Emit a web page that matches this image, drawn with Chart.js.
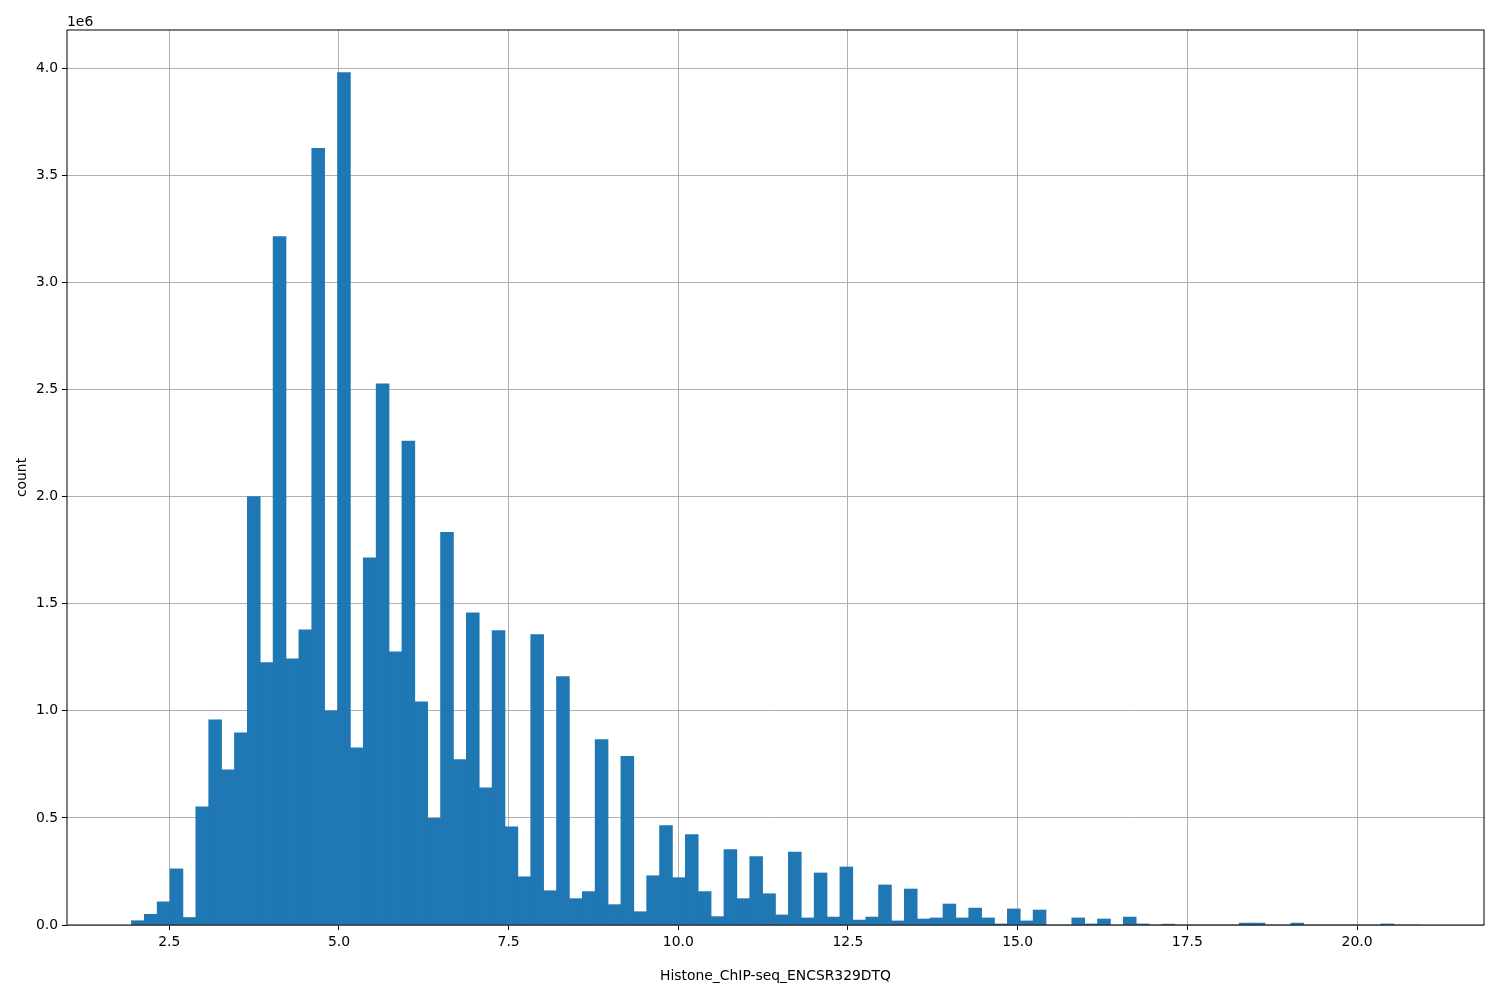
<!DOCTYPE html>
<html>
<head>
<meta charset="utf-8">
<script src="https://cdn.jsdelivr.net/npm/chart.js@4/dist/chart.umd.min.js"></script>
<style>
  html, body { margin: 0; padding: 0; background: #ffffff; }
  #wrap { width: 1500px; height: 1000px; }
</style>
</head>
<body>
<div id="wrap"><canvas id="c" width="1500" height="1000"></canvas></div>
<script>
// ---- Data ----
const xLabel = "Histone_ChIP-seq_ENCSR329DTQ";
const yLabel = "count";
const binStart = 1.942;     // left edge of the first bin
const binWidth = 0.1898;    // width of every bin
const counts = [
  20000, 50000, 108000, 262000, 35000, 552000, 958000, 724000, 897000, 2000000,
  1225000, 3215000, 1243000, 1378000, 3626000, 1000000, 3980000, 827000, 1715000, 2527000,
  1275000, 2260000, 1042000, 498000, 1833000, 772000, 1458000, 640000, 1375000, 458000,
  225000, 1356000, 160000, 1160000, 123000, 156000, 866000, 95000, 787000, 62000,
  230000, 464000, 221000, 422000, 156000, 39000, 352000, 123000, 319000, 146000,
  47000, 341000, 33000, 243000, 37000, 271000, 23000, 37000, 187000, 19000,
  168000, 28000, 33000, 98000, 33000, 79000, 33000, 5000, 75000, 19000,
  70000, 0, 0, 33000, 5000, 28000, 0, 37000, 5000, 0,
  4000, 0, 0, 0, 0, 0, 9000, 9000, 0, 0,
  9000, 0, 0, 0, 0, 0, 0, 5000, 0, 0
];
const xTicks = [2.5, 5.0, 7.5, 10.0, 12.5, 15.0, 17.5, 20.0];
const yTicks = [0, 500000, 1000000, 1500000, 2000000, 2500000, 3000000, 3500000, 4000000];
const xMin = 0.993, xMax = 21.871;
const yMin = 0, yMax = 4179000;

// ---- Build ----
const points = counts.map((v, i) => ({ x: binStart + (i + 0.5) * binWidth, y: v }));
const FONT = "'DejaVu Sans', 'Liberation Sans', sans-serif";

const framePlugin = {
  id: 'frame',
  afterDraw(chart) {
    const { ctx, chartArea: a } = chart;
    ctx.save();
    ctx.strokeStyle = '#000000';
    ctx.lineWidth = 1;
    ctx.strokeRect(a.left, a.top, a.right - a.left, a.bottom - a.top);
    ctx.fillStyle = '#000000';
    ctx.font = "13.9px " + FONT;
    ctx.textAlign = 'left';
    ctx.textBaseline = 'alphabetic';
    ctx.fillText('1e6', a.left, 26);
    ctx.restore();
  }
};

new Chart(document.getElementById('c'), {
  type: 'bar',
  data: {
    datasets: [{
      data: points,
      backgroundColor: '#1f77b4',
      borderWidth: 0,
      barPercentage: 1.0,
      categoryPercentage: 1.0,
      grouped: false
    }]
  },
  options: {
    responsive: false,
    animation: false,
    devicePixelRatio: 1,
    layout: { padding: { left: 0, top: 30, right: 16, bottom: 0 } },
    plugins: { legend: { display: false }, tooltip: { enabled: false } },
    scales: {
      x: {
        type: 'linear',
        min: xMin, max: xMax,
        offset: false,
        z: 1,
        afterBuildTicks: (s) => { s.ticks = xTicks.map(v => ({ value: v })); },
        afterFit: (s) => { s.height = 75; },
        grid: { color: '#b0b0b0', lineWidth: 1, tickColor: '#000000', tickLength: 5, offset: false, drawTicks: true },
        border: { display: false },
        ticks: {
          color: '#000000', padding: 4, maxRotation: 0, autoSkip: false,
          font: { family: FONT, size: 13.9 },
          callback: (v) => Number(v).toFixed(1)
        },
        title: {
          display: true, text: xLabel, color: '#000000',
          font: { family: FONT, size: 13.9 },
          padding: { top: 4, bottom: 15 }
        }
      },
      y: {
        type: 'linear',
        min: yMin, max: yMax,
        z: 1,
        afterBuildTicks: (s) => { s.ticks = yTicks.map(v => ({ value: v })); },
        afterFit: (s) => { s.width = 67; },
        grid: { color: '#b0b0b0', lineWidth: 1, tickColor: '#000000', tickLength: 5, drawTicks: true },
        border: { display: false },
        ticks: {
          color: '#000000', padding: 4, autoSkip: false,
          font: { family: FONT, size: 13.9 },
          callback: (v) => (v / 1e6).toFixed(1)
        },
        title: {
          display: true, text: yLabel, color: '#000000',
          font: { family: FONT, size: 13.9 },
          padding: { top: 14, bottom: 4 }
        }
      }
    }
  },
  plugins: [framePlugin]
});
</script>
</body>
</html>
